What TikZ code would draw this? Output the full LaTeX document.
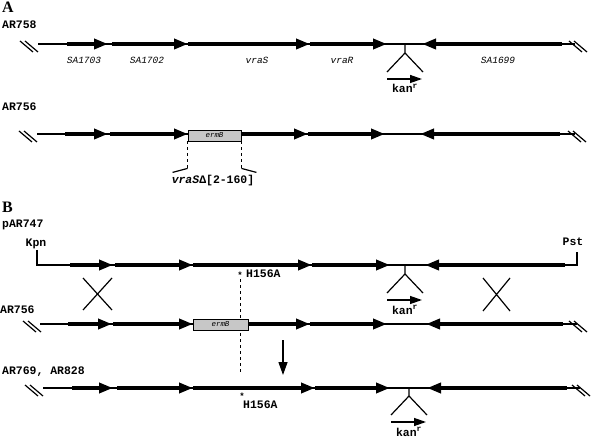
\documentclass[tikz,border=0pt]{standalone}
\usepackage{fontspec}
\setmonofont{Liberation Mono}
\newfontfamily\headfont{Liberation Serif}
\usetikzlibrary{arrows.meta}
\definecolor{boxgray}{rgb}{0.78,0.78,0.78}
% two slanted strokes where the chromosome is cut
\newcommand{\cutmark}[2]{\draw[bb] (#1,#2-3) -- ++(13,11) (#1+5,#2-3) -- ++(13,11);}
% kan cassette hanging under the chromosome
\newcommand{\kanins}[3]{%
  \draw[bb] (#1,#2) -- (#1,#2+9) -- (#1-18,#2+28) (#1,#2+9) -- (#1+18,#2+28);
  \draw[kan] (#1-18,#2+35) -- (#1+17,#2+35);
  \node[lbl, anchor=base] (#3) at (#1,#2+49) {kan\textsuperscript{r}};}

\begin{document}
\begin{tikzpicture}[
    x=1bp, y=-1bp,
    bb/.style={line width=1.2bp},
    gene/.style={line width=4bp, -{Triangle[length=14bp,width=10bp]}},
    kan/.style={line width=1.3bp, -{Triangle[length=12bp,width=8bp]}},
    ermbox/.style={draw, line width=0.8bp, fill=boxgray},
    lbl/.style={font=\ttfamily\bfseries\fontsize{11.5}{12}\selectfont, inner sep=0pt},
    big/.style={font=\headfont\bfseries\fontsize{16}{16}\selectfont, inner sep=0pt},
    glbl/.style={font=\ttfamily\itshape\fontsize{9.5}{10}\selectfont, inner sep=0pt},
    dashln/.style={line width=1bp, dash pattern=on 3bp off 3bp},
]
\useasboundingbox (0,0) rectangle (592,438);

% ---- A
\node[big, anchor=base west] (A) at (2,13) {A};
\node[lbl, anchor=base west] (AR758) at (2,29) {AR758};
\cutmark{20}{44}
\draw[bb] (38,44) -- (575,44);
\cutmark{569}{44}
\draw[gene] (67,44) -- (108,44);
\draw[gene] (112,44) -- (188,44);
\draw[gene] (188,44) -- (310,44);
\draw[gene] (310,44) -- (387,44);
\draw[gene] (562,44) -- (422,44);
\kanins{405}{44}{kanA}
\node[glbl, anchor=base] (sa1703) at (84,64) {SA1703};
\node[glbl, anchor=base] (sa1702) at (147,64) {SA1702};
\node[glbl, anchor=base] (vras) at (257,64) {vraS};
\node[glbl, anchor=base] (vrar) at (342,64) {vraR};
\node[glbl, anchor=base] (sa1699) at (498,64) {SA1699};

\node[lbl, anchor=base west] (AR756a) at (2,111) {AR756};
\cutmark{19}{134}
\draw[bb] (37,134) -- (575,134);
\cutmark{568}{134}
\draw[gene] (65,134) -- (108,134);
\draw[gene] (110,134) -- (188,134);
\draw[gene] (241,134) -- (308,134);
\draw[gene] (308,134) -- (385,134);
\draw[gene] (560,134) -- (420,134);
\node[ermbox, minimum width=53bp, minimum height=11bp, inner sep=0pt,
      font=\ttfamily\itshape\fontsize{7.5}{8}\selectfont] (ermA) at (214.5,135.5) {ermB};
\draw[dashln] (ermA.south west) -- ++(0,27);
\draw[dashln] (ermA.south east) -- ++(0,27);
\draw[bb] (ermA.south west) ++(0,27) -- ++(-15,4);
\draw[bb] (ermA.south east) ++(0,27) -- ++(15,4);
\node[lbl, anchor=base] (del) at (213,184) {\itshape vraS\upshape Δ[2-160]};

% ---- B
\node[big, anchor=base west] (B) at (2,213) {B};
\node[lbl, anchor=base west] (pAR747) at (2,228) {pAR747};
\node[lbl, anchor=base] (kpn) at (36,247) {Kpn};
\node[lbl, anchor=base] (pst) at (573,246) {Pst};
\draw[dashln] (240,279) -- (240,375);
\draw[bb] (37,250) -- (37,265) -- (577,265) -- (577,252);
\draw[gene] (70,265) -- (113,265);
\draw[gene] (115,265) -- (193,265);
\draw[gene] (193,265) -- (312,265);
\draw[gene] (312,265) -- (390,265);
\draw[gene] (565,265) -- (425,265);
\kanins{405}{265}{kanB}
\node[lbl, anchor=base, font=\ttfamily\bfseries\fontsize{9}{9}\selectfont] (starB) at (240,279) {*};
\node[lbl, anchor=base west] (mutB) at (246,278) {H156A};

% crossing over
\draw[bb] (83,278) -- (112,310) (83,310) -- (112,278);
\draw[bb] (483,278) -- (510,311) (483,311) -- (510,278);

\node[lbl, anchor=base west] (AR756b) at (0,313) {AR756};
\cutmark{23}{324}
\draw[bb] (40,324) -- (577,324);
\cutmark{569}{324}
\draw[gene] (68,324) -- (112,324);
\draw[gene] (113,324) -- (193,324);
\draw[gene] (248,324) -- (310,324);
\draw[gene] (310,324) -- (387,324);
\draw[gene] (563,324) -- (426,324);
\node[ermbox, minimum width=55bp, minimum height=11bp, inner sep=0pt,
      font=\ttfamily\itshape\fontsize{7.5}{8}\selectfont] (ermB) at (220.5,324.5) {ermB};

\coordinate (dtop) at (283,340);
\coordinate (dbot) at (283,375);
\draw[kan, -{Triangle[length=13bp,width=9bp]}] (dtop) -- (dbot);

\node[lbl, anchor=base west] (AR769) at (2,374) {AR769, AR828};
\cutmark{25}{388}
\draw[bb] (43,388) -- (580,388);
\cutmark{572}{388}
\draw[gene] (72,388) -- (113,388);
\draw[gene] (117,388) -- (193,388);
\draw[gene] (193,388) -- (315,388);
\draw[gene] (315,388) -- (390,388);
\draw[gene] (567,388) -- (427,388);
\kanins{409}{387}{kanC}
\node[lbl, anchor=base, font=\ttfamily\bfseries\fontsize{9}{9}\selectfont] (starC) at (242,399) {*};
\node[lbl, anchor=base west] (mutC) at (243,408) {H156A};
\end{tikzpicture}
\end{document}
